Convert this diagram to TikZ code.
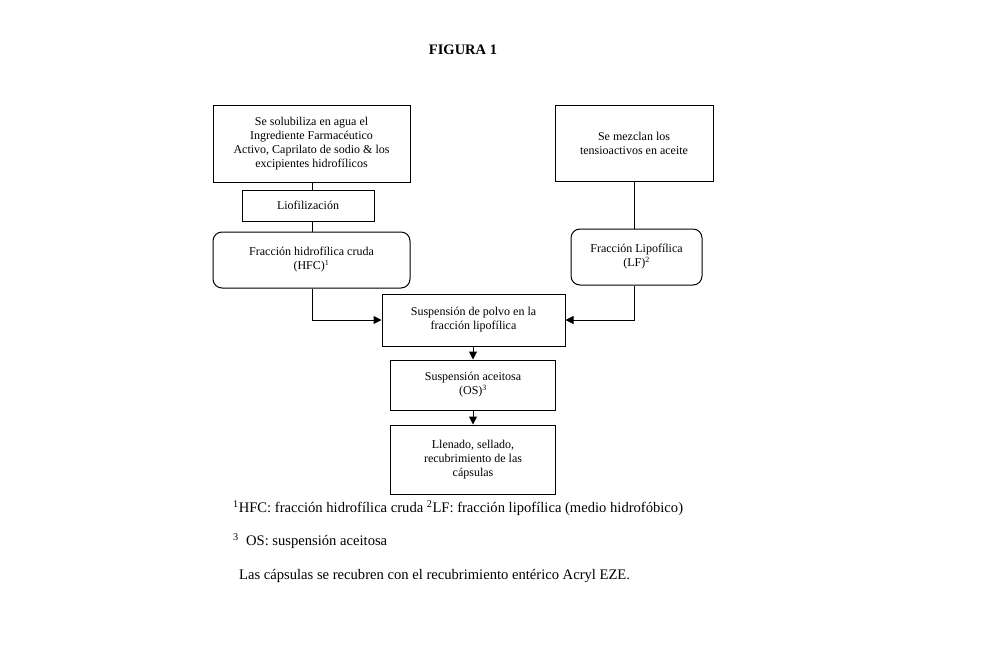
\documentclass[tikz,border=0pt]{standalone}
\usepackage{fontspec}
\setmainfont{Liberation Serif}
\usetikzlibrary{arrows.meta}
\usetikzlibrary{positioning}
\tikzset{
  flecha/.style={
    line width=1pt,
    -{Triangle[length=8pt,width=8pt]}
  },
  linea/.style={line width=1pt}
}

\begin{document}
\begin{tikzpicture}[x=1pt,y=-1pt] % Estilos de nodos
\tikzstyle{paso} = [rectangle, draw, line width=1pt, align=center, inner sep=0pt, font=\fontsize{12}{14}\selectfont]
\tikzstyle{fraccion} = [paso, rounded corners=9pt]
\tikzstyle{nota} = [anchor=west, inner sep=0pt, font=\fontsize{14.6}{17}\selectfont]
% Marco de la figura
\useasboundingbox[fill=white] (0,0) rectangle (1000,656);
\node (titulo) at (463,50) [font=\fontsize{14.5}{17}\selectfont\bfseries] {FIGURA 1};
% Nodos de la rama hidrofilica
\node (solub) [paso, minimum width=197pt, minimum height=77pt] at (311.5,143.5) {Se solubiliza en agua el\\ Ingrediente Farmacéutico\\ Activo, Caprilato de sodio \& los\\ excipientes hidrofílicos};
\node (liof) [paso, minimum width=132pt, minimum height=31pt] at (308,205.5) {Liofilización};
\node (hfc) [fraccion, minimum width=197pt, minimum height=56pt] at (311.5,260) {Fracción hidrofílica cruda\\ (HFC)\textsuperscript{1}};
% Nodos de la rama lipofilica
\node (mezcla) [paso, minimum width=158pt, minimum height=76pt] at (634,143) {Se mezclan los\\ tensioactivos en aceite};
\node (lf) [fraccion, minimum width=131pt, minimum height=56pt] at (636.5,257) {Fracción Lipofílica\\ (LF)\textsuperscript{2}};
% Nodos del proceso comun
\node (susp) [paso, minimum width=183pt, minimum height=52pt] at (473.5,320) {Suspensión de polvo en la\\ fracción lipofílica};
\node (os) [paso, minimum width=165pt, minimum height=50pt] at (473,385) {Suspensión aceitosa\\ (OS)\textsuperscript{3}};
\node (llenado) [paso, minimum width=165pt, minimum height=69pt] at (473,459.5) {Llenado, sellado,\\ recubrimiento de las\\ cápsulas};
% Conectores
\draw[linea] (solub.south) ++(0.5,0) coordinate (s1) -- (s1 |- liof.north);
\draw[linea] (s1 |- liof.south) -- (s1 |- hfc.north);
\draw[flecha] (s1 |- hfc.south) |- (susp.west);
\draw[linea] (mezcla.south) -- (mezcla.south |- lf.north);
\draw[flecha] (mezcla.south |- lf.south) |- (susp.east);
\draw[flecha] (susp.south -| os.north) -- (os.north);
\draw[flecha] (os.south) -- (llenado.north);
% Notas al pie
\node (nota1) [nota] at (233,508) {\textsuperscript{1}HFC: fracción hidrofílica cruda \textsuperscript{2}LF: fracción lipofílica (medio hidrofóbico)};
\node (nota2) [nota] at (233,541) {\textsuperscript{3}\ \ OS: suspensión aceitosa};
\node (nota3) [nota] at (239,576) {Las cápsulas se recubren con el recubrimiento entérico Acryl EZE.};
\end{tikzpicture}
\end{document}
